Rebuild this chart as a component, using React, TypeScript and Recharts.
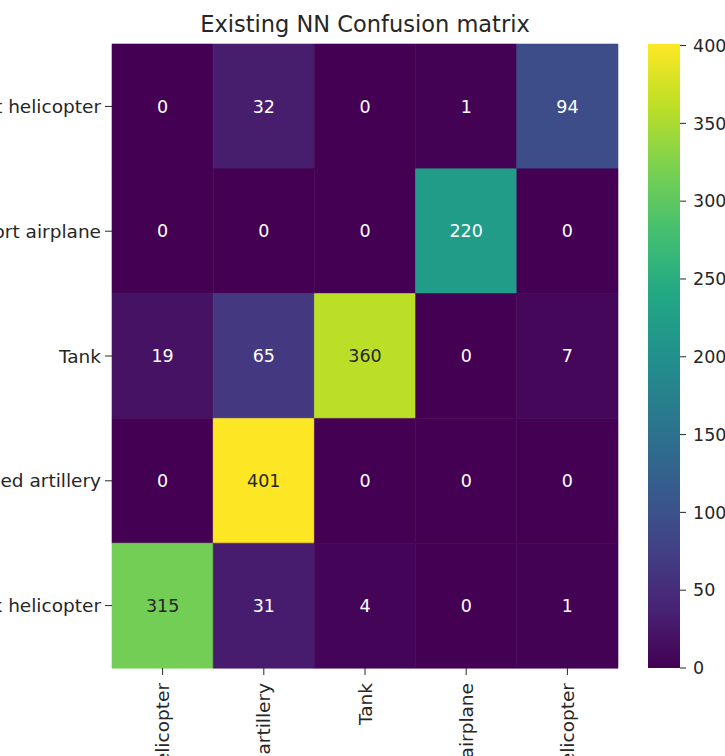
import { BarChart, Bar, XAxis, YAxis, Cell, LabelList } from "recharts";

// class names (only their endings are visible in the picture)
const classes = [
  "Attack helicopter",
  "Self-propelled artillery",
  "Tank",
  "Transport airplane",
  "Transport helicopter",
];

// confusion matrix rows: true class, columns: predicted class
const trueAttackHeli = [315, 31, 4, 0, 1];
const trueArtillery = [0, 401, 0, 0, 0];
const trueTank = [19, 65, 360, 0, 7];
const trueAirplane = [0, 0, 0, 220, 0];
const trueTransportHeli = [0, 32, 0, 1, 94];

const colorbarTicks = [0, 50, 100, 150, 200, 250, 300, 350, 400];

const matrix = [trueAttackHeli, trueArtillery, trueTank, trueAirplane, trueTransportHeli];
const vmax = Math.max(...matrix.flat());

// figure shows the first class at the bottom
const rows = matrix
  .map((vals, i) => {
    const r: any = { name: classes[i] };
    vals.forEach((v, j) => {
      r[`v${j}`] = v;
      r[`u${j}`] = 1;
    });
    return r;
  })
  .reverse();

const VIRIDIS = [
  "#440154", "#482475", "#414487", "#355f8d", "#2a788e", "#21918c",
  "#22a884", "#44bf70", "#7ad151", "#bddf26", "#fde725",
];

const hexToRgb = (h: string) => [1, 3, 5].map((i) => parseInt(h.slice(i, i + 2), 16));

function viridis(t: number): string {
  const x = Math.min(1, Math.max(0, t)) * (VIRIDIS.length - 1);
  const i = Math.min(VIRIDIS.length - 2, Math.floor(x));
  const f = x - i;
  const a = hexToRgb(VIRIDIS[i]);
  const b = hexToRgb(VIRIDIS[i + 1]);
  const c = a.map((v, k) => Math.round(v + (b[k] - v) * f));
  return `rgb(${c[0]},${c[1]},${c[2]})`;
}

// seaborn-style annotation colour: dark text on light cells
function textColor(fill: string): string {
  const c = fill.match(/\d+/g)!.map((v) => {
    const s = Number(v) / 255;
    return s <= 0.03928 ? s / 12.92 : Math.pow((s + 0.055) / 1.055, 2.4);
  });
  const lum = 0.2126 * c[0] + 0.7152 * c[1] + 0.0722 * c[2];
  return lum > 0.408 ? "#262626" : "#ffffff";
}

const FONT = "DejaVu Sans";
const INK = "#262626";
const TICK_SIZE = 18.5;

const XTick = (p: any) => (
  <text
    x={p.x}
    y={p.y}
    transform={`rotate(-90, ${p.x}, ${p.y})`}
    textAnchor="end"
    dominantBaseline="central"
    fontSize={TICK_SIZE}
    fontFamily={FONT}
    fill={INK}
  >
    {classes[Math.floor(p.payload.value)]}
  </text>
);

const YTick = (p: any) => (
  <text
    x={p.x}
    y={p.y}
    textAnchor="end"
    dominantBaseline="central"
    fontSize={TICK_SIZE}
    fontFamily={FONT}
    fill={INK}
  >
    {p.payload.value}
  </text>
);

const cellLabel = (col: number) => (p: any) => {
  const fill = viridis(p.value / vmax);
  return (
    <text
      x={p.x + p.width / 2}
      y={p.y + p.height / 2}
      textAnchor="middle"
      dominantBaseline="central"
      fontSize={17.5}
      fontFamily={FONT}
      fill={textColor(fill)}
      key={`l${col}-${p.index}`}
    >
      {p.value}
    </text>
  );
};

export default function App() {
  return (
    <div style={{ position: "absolute", left: 0, top: 0, width: 725, height: 756, background: "#fff", overflow: "hidden" }}>
      <svg width={0} height={0} style={{ position: "absolute" }}>
        <defs>
          <linearGradient id="viridisBar" x1="0" y1="1" x2="0" y2="0">
            {VIRIDIS.map((c, i) => (
              <stop key={c} offset={i / (VIRIDIS.length - 1)} stopColor={c} />
            ))}
          </linearGradient>
        </defs>
      </svg>

      <div
        style={{
          position: "absolute",
          left: 112,
          width: 506,
          top: 11,
          textAlign: "center",
          fontFamily: FONT,
          fontSize: 22.5,
          color: INK,
          whiteSpace: "nowrap",
        }}
      >
        Existing NN Confusion matrix
      </div>

      <div style={{ position: "absolute", left: 0, top: 0 }}>
        <BarChart
          width={725}
          height={756}
          data={rows}
          layout="vertical"
          margin={{ top: 44, right: 107, bottom: 0, left: 0 }}
          barCategoryGap={0}
          barGap={0}
        >
          <XAxis
            type="number"
            domain={[0, 5]}
            ticks={[0.5, 1.5, 2.5, 3.5, 4.5]}
            interval={0}
            height={88}
            axisLine={false}
            tickSize={7}
            tickMargin={8}
            tickLine={{ stroke: INK }}
            tick={<XTick />}
          />
          <YAxis
            type="category"
            dataKey="name"
            width={112}
            interval={0}
            axisLine={false}
            tickSize={7}
            tickMargin={4}
            tickLine={{ stroke: INK }}
            tick={<YTick />}
          />
          {classes.map((_, j) => (
            <Bar key={j} dataKey={`u${j}`} stackId="m" isAnimationActive={false}>
              {rows.map((r, i) => {
                const fill = viridis(r[`v${j}`] / vmax);
                return <Cell key={i} fill={fill} stroke={fill} strokeWidth={0.6} />;
              })}
              <LabelList dataKey={`v${j}`} content={cellLabel(j)} />
            </Bar>
          ))}
        </BarChart>
      </div>

      <div style={{ position: "absolute", left: 640, top: 0 }}>
        <BarChart
          width={85}
          height={756}
          data={[{ name: "colorbar", v: vmax }]}
          margin={{ top: 44, right: 0, bottom: 88, left: 8 }}
          barCategoryGap={0}
        >
          <XAxis dataKey="name" hide />
          <YAxis
            orientation="right"
            type="number"
            domain={[0, vmax]}
            ticks={colorbarTicks}
            interval={0}
            width={45}
            axisLine={false}
            tickSize={6}
            tickMargin={7}
            tickLine={{ stroke: INK }}
            tick={{ fontSize: 17.5, fontFamily: FONT, fill: INK }}
          />
          <Bar dataKey="v" fill="url(#viridisBar)" isAnimationActive={false} />
        </BarChart>
      </div>
    </div>
  );
}
